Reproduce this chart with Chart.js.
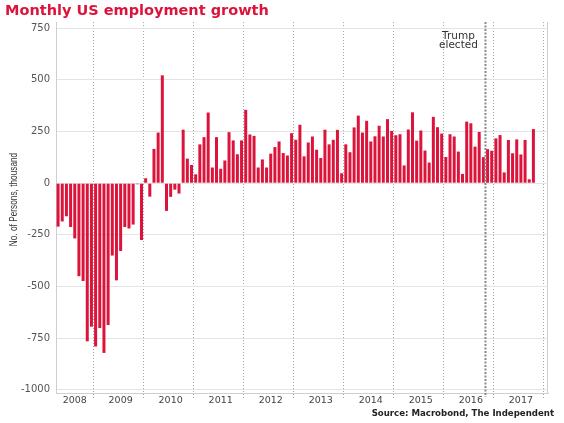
<!DOCTYPE html>
<html><head><meta charset="utf-8">
<script src="https://cdn.jsdelivr.net/npm/chart.js@4.4.1/dist/chart.umd.min.js"></script>
<style>html,body{margin:0;padding:0;background:#fff}canvas{display:block}</style>
</head><body>
<canvas id="c" width="564" height="423"></canvas>
<script>
const titleText = 'Monthly US employment growth';
const yAxisTitle = 'No. of Persons, thousand';
const sourceText = 'Source: Macrobond, The Independent';
const annotationText = ['Trump', 'elected'];
const annotationMonth = '2016-11';

const years = [2008, 2009, 2010, 2011, 2012, 2013, 2014, 2015, 2016, 2017];
const firstMonth2008 = 4; // series starts April 2008
const jobs2008 = [-210, -185, -160, -212, -267, -450, -473, -765, -694];
const jobs2009 = [-790, -701, -821, -686, -350, -470, -328, -212, -219, -200, -5, -275];
const jobs2010 = [24, -65, 166, 245, 522, -134, -66, -31, -50, 259, 119, 88];
const jobs2011 = [43, 188, 223, 342, 76, 223, 70, 110, 247, 207, 140, 207];
const jobs2012 = [355, 236, 229, 76, 115, 76, 143, 175, 202, 146, 134, 242];
const jobs2013 = [210, 283, 130, 197, 226, 162, 122, 259, 188, 210, 258, 48];
const jobs2014 = [188, 150, 270, 327, 245, 302, 202, 227, 278, 226, 310, 253];
const jobs2015 = [232, 237, 86, 260, 343, 206, 255, 158, 100, 321, 271, 240];
const jobs2016 = [127, 237, 226, 153, 45, 298, 290, 177, 248, 126, 165, 157];
const jobs2017 = [217, 233, 52, 209, 145, 212, 139, 209, 19, 262];
const axisEndMonth = '2018-01';
const tickYears = ['2008', '2009', '2010', '2011', '2012', '2013', '2014', '2015', '2016', '2017'];
const yTicks = [-1000, -750, -500, -250, 0, 250, 500, 750];

const series = [jobs2008, jobs2009, jobs2010, jobs2011, jobs2012, jobs2013, jobs2014, jobs2015, jobs2016, jobs2017];
const months = [];
const values = [];
years.forEach((y, k) => {
  const start = k === 0 ? firstMonth2008 : 1;
  series[k].forEach((v, i) => {
    months.push(y + '-' + String(start + i).padStart(2, '0'));
    values.push(v);
  });
});
(function extendAxis() {
  let [ly, lm] = months[months.length - 1].split('-').map(Number);
  for (let guard = 0; guard < 24; guard++) {
    lm++; if (lm > 12) { lm = 1; ly++; }
    const lab = ly + '-' + String(lm).padStart(2, '0');
    months.push(lab);
    if (lab === axisEndMonth) break;
  }
})();

function yearLabelAt(index) {
  const y = months[index].slice(0, 4);
  if (!tickYears.includes(y)) return '';
  const idxs = [];
  months.forEach((m, i) => { if (m.startsWith(y)) idxs.push(i); });
  return index === idxs[Math.floor(idxs.length / 2)] ? y : '';
}

const RED = '#dc143c';
const overlay = {
  id: 'overlay',
  afterDatasetsDraw(chart) {
    const {ctx, chartArea, scales: {x}} = chart;
    const i = months.indexOf(annotationMonth);
    const px = (x.getPixelForValue(i - 1) + x.getPixelForValue(i)) / 2;
    ctx.save();
    ctx.strokeStyle = '#8a8a8a';
    ctx.lineWidth = 2;
    ctx.setLineDash([2, 1.5]);
    ctx.beginPath();
    ctx.moveTo(px, chartArea.top);
    ctx.lineTo(px, chartArea.bottom + 4);
    ctx.stroke();
    ctx.restore();
    ctx.save();
    ctx.fillStyle = '#333';
    ctx.font = '10.5px "DejaVu Sans"';
    ctx.textAlign = 'center';
    ctx.textBaseline = 'alphabetic';
    ctx.fillText(annotationText[0], px - 27, chartArea.top + 17);
    ctx.fillText(annotationText[1], px - 27, chartArea.top + 26);
    ctx.restore();
  },
  afterDraw(chart) {
    const {ctx, chartArea} = chart;
    ctx.save();
    ctx.fillStyle = RED;
    ctx.font = 'bold 14.5px "DejaVu Sans"';
    ctx.textAlign = 'left';
    ctx.textBaseline = 'alphabetic';
    ctx.fillText(titleText, 5, 15);

    ctx.fillStyle = '#222';
    ctx.font = 'bold 8.6px "DejaVu Sans"';
    ctx.textAlign = 'right';
    ctx.fillText(sourceText, 554, 416);

    ctx.translate(14, (chartArea.top + chartArea.bottom) / 2 - 8);
    ctx.rotate(-Math.PI / 2);
    ctx.scale(0.72, 1);
    ctx.fillStyle = '#333';
    ctx.font = '11.5px "Liberation Sans"';
    ctx.textAlign = 'center';
    ctx.textBaseline = 'middle';
    ctx.fillText(yAxisTitle, 0, 0);
    ctx.restore();
  }
};

new Chart(document.getElementById('c'), {
  type: 'bar',
  data: {
    labels: months,
    datasets: [{
      data: values,
      backgroundColor: RED,
      borderWidth: 0,
      barPercentage: 0.72,
      categoryPercentage: 1
    }]
  },
  options: {
    responsive: false,
    animation: false,
    devicePixelRatio: 1,
    layout: {padding: {top: 22, right: 16, left: 0, bottom: 0}},
    plugins: {legend: {display: false}, tooltip: {enabled: false}, title: {display: false}},
    scales: {
      x: {
        type: 'category',
        offset: true,
        afterFit: s => { s.height = 30; },
        grid: {
          offset: true,
          drawOnChartArea: true,
          drawTicks: true,
          tickLength: 5,
          lineWidth: 1,
          color: c => c.type !== 'tick' ? '#cfcfcf' : (months[c.index].endsWith('-01') ? '#a8a8a8' : 'rgba(0,0,0,0)'),
          tickColor: c => c.type !== 'tick' ? 'rgba(0,0,0,0)' : (months[c.index].endsWith('-01') ? '#a8a8a8' : 'rgba(0,0,0,0)'),
          tickBorderDash: [1, 2]
        },
        border: {
          display: true,
          color: '#cfcfcf',
          dash: c => c.type !== 'tick' ? [] : [1, 2]
        },
        ticks: {
          autoSkip: false,
          maxRotation: 0,
          minRotation: 0,
          padding: -3,
          color: '#444',
          font: {family: 'DejaVu Sans', size: 9.5},
          callback: (value, index) => yearLabelAt(index)
        }
      },
      y: {
        min: -1015,
        max: 780,
        afterFit: s => { s.width = 56; },
        afterBuildTicks: s => { s.ticks = yTicks.map(v => ({value: v})); },
        grid: {color: '#e4e4e4', lineWidth: 1, drawTicks: false},
        border: {display: true, color: '#cfcfcf'},
        ticks: {
          padding: 6,
          color: '#555',
          font: {family: 'DejaVu Sans', size: 10},
          callback: v => String(v)
        }
      }
    }
  },
  plugins: [overlay]
});
</script>
</body></html>
